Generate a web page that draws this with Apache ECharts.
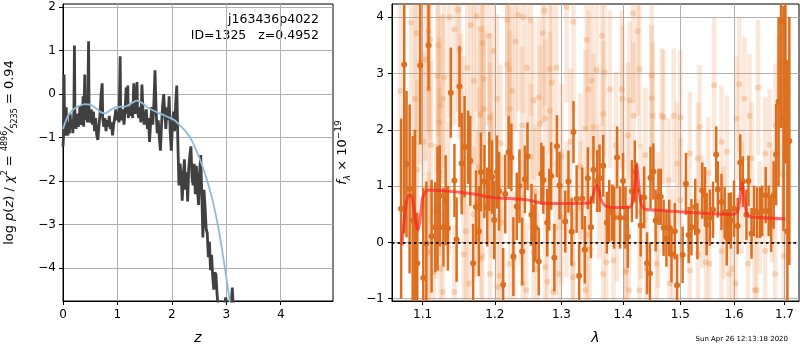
<!DOCTYPE html>
<html>
<head>
<meta charset="utf-8">
<script src="https://cdn.jsdelivr.net/npm/echarts@6/dist/echarts.min.js"></script>
<style>
  html, body { margin: 0; padding: 0; background: #fff; }
  #main { width: 800px; height: 350px; }
</style>
</head>
<body>
<div id="main"></div>
<script>
// left panel: p(z)
const zTicks = [0, 1, 2, 3, 4];
const pzTicks = [-4, -3, -2, -1, 0, 1, 2];
const pzZ = [
  0.00, 0.01, 0.02, 0.03, 0.05, 0.06, 0.07, 0.09, 0.10, 0.12,
  0.13, 0.15, 0.17, 0.18, 0.20, 0.21, 0.22, 0.24, 0.26, 0.28,
  0.30, 0.31, 0.33, 0.35, 0.37, 0.38, 0.40, 0.41, 0.43, 0.45,
  0.47, 0.48, 0.50, 0.52, 0.54, 0.56, 0.58, 0.60, 0.62, 0.64,
  0.66, 0.68, 0.70, 0.72, 0.73, 0.75, 0.77, 0.79, 0.81, 0.83,
  0.85, 0.87, 0.89, 0.91, 0.93, 0.95, 0.97, 0.99, 1.01, 1.03,
  1.05, 1.06, 1.08, 1.10, 1.12, 1.14, 1.16, 1.17, 1.19, 1.20,
  1.22, 1.24, 1.26, 1.28, 1.30, 1.32, 1.34, 1.36, 1.37, 1.39,
  1.41, 1.43, 1.45, 1.47, 1.49, 1.51, 1.53, 1.55, 1.57, 1.59,
  1.61, 1.63, 1.65, 1.67, 1.69, 1.71, 1.73, 1.75, 1.77, 1.79,
  1.81, 1.83, 1.85, 1.87, 1.89, 1.91, 1.93, 1.95, 1.97, 1.99,
  2.01, 2.03, 2.05, 2.07, 2.09, 2.11, 2.13, 2.15, 2.17, 2.19,
  2.21, 2.23, 2.25, 2.27, 2.29, 2.31, 2.33, 2.35, 2.37, 2.39,
  2.41, 2.43, 2.45, 2.47, 2.49, 2.51, 2.53, 2.55, 2.57, 2.59,
  2.61, 2.63, 2.65, 2.67, 2.69, 2.71, 2.73, 2.75, 2.77, 2.79,
  2.81, 2.83, 2.85, 2.87, 2.95, 2.99, 3.02, 3.08, 3.11, 3.14, 3.20
];
const pzLog = [
  -1.20, -0.95, 0.45, -0.90, -0.95, -0.30, -0.85, -0.95, -0.65, -0.90,
  -0.45, -0.80, -0.60, -0.90, -0.40, 1.12, -0.60, -0.80, -0.45, -0.75,
  -0.55, -0.25, -0.70, -0.65, -0.05, -0.75, 0.45, -0.60, -0.30, -0.65,
  1.22, -0.50, -0.65, -0.35, -0.70, -0.40, -0.85, -0.55, -0.95, -1.05,
  -0.75, -0.45, 0.00, 0.25, -0.55, -0.75, -0.55, -0.85, -0.60, -0.75,
  -0.50, -0.80, -0.65, -0.95, -0.70, -0.55, -0.35, -0.60, -0.40, -0.65,
  0.87, -0.45, -0.60, -0.35, -0.70, -0.40, 0.15, -0.45, 0.20, -0.55,
  -0.30, -0.50, -0.20, -0.55, 0.25, -0.45, -0.25, 0.28, -0.40, -0.55,
  -0.30, -0.65, 0.22, -0.40, -0.70, -0.50, -0.35, -0.80, -0.55, -1.10,
  -0.65, -0.30, -0.70, -0.20, 0.55, -0.35, -0.90, -0.60, -1.00, -1.30,
  -0.70, -0.25, 0.00, -0.45, -0.80, -0.30, -0.60, -0.05, -0.90, -1.30,
  -0.75, -0.40, -0.85, -0.20, 0.20, -1.10, -2.10, -1.60, -1.85, -2.45,
  -1.90, -1.50, -2.20, -1.80, -2.47, -1.70, -1.40, -1.20, -1.90, -2.10,
  -1.60, -2.30, -1.65, -2.20, -2.55, -1.80, -1.40, -2.30, -3.30, -2.20,
  -2.60, -3.10, -3.20, -3.75, -3.40, -4.05, -3.70, -4.20, -4.50, -4.10,
  -4.15, -4.60, -4.90, -5.20, -5.00, -4.68, -5.00, -5.10, -4.45, -5.20, -6.00
];
const fitZ = [0.00, 0.05, 0.10, 0.20, 0.30, 0.40, 0.50, 0.60, 0.70, 0.78,
  0.85, 0.95, 1.05, 1.15, 1.25, 1.35, 1.45, 1.55, 1.65, 1.75,
  1.85, 1.95, 2.05, 2.15, 2.25, 2.35, 2.45, 2.55, 2.65, 2.75,
  2.85, 2.95, 3.05, 3.12];
const fitLog = [-0.80, -0.62, -0.48, -0.34, -0.27, -0.23, -0.24, -0.32, -0.42, -0.44,
  -0.38, -0.31, -0.29, -0.28, -0.22, -0.15, -0.20, -0.30, -0.37, -0.43,
  -0.48, -0.54, -0.60, -0.72, -0.85, -1.03, -1.30, -1.62, -2.00, -2.45,
  -3.05, -3.80, -4.65, -5.30];

// right panel: spectrum, [lambda, flux, err]
const lamTicks = [1.1, 1.2, 1.3, 1.4, 1.5, 1.6, 1.7];
const fluxTicks = [-1, 0, 1, 2, 3, 4];
const specDark = [
  [1.072, 0.60, 1.60], [1.076, 3.16, 3.00], [1.079, 1.39, 1.30], [1.083, 0.95, 1.50], [1.087, 0.39, 1.50],
  [1.090, 0.20, 1.80], [1.093, -0.37, 0.90], [1.097, 3.14, 1.40], [1.101, -0.63, 1.60], [1.105, -0.02, 1.10],
  [1.108, 3.50, 0.80], [1.112, 0.11, 1.00], [1.117, 0.27, 0.80], [1.120, 0.60, 1.10], [1.123, 0.83, 0.90],
  [1.128, 0.27, 0.70], [1.131, 0.75, 0.80], [1.134, 0.25, 0.75], [1.138, 2.66, 0.80], [1.143, 1.10, 0.65],
  [1.146, 0.05, 0.75], [1.150, 2.77, 0.72], [1.153, 1.40, 0.90], [1.157, 1.70, 0.90], [1.162, 1.69, 0.65],
  [1.165, 1.45, 0.80], [1.169, -0.37, 0.70], [1.173, 0.63, 0.65], [1.177, 0.20, 0.80], [1.180, 1.25, 0.70],
  [1.185, 1.08, 0.65], [1.189, 0.63, 0.70], [1.192, 1.26, 0.70], [1.196, 1.16, 0.65], [1.199, 0.40, 0.70],
  [1.203, 1.25, 0.65], [1.206, 0.91, 0.70], [1.212, -0.75, 0.65], [1.215, 0.86, 0.70], [1.220, 1.60, 0.65],
  [1.224, 1.51, 0.60], [1.227, -0.25, 0.70], [1.232, 0.64, 0.60], [1.236, 1.00, 0.65], [1.240, -0.16, 0.60],
  [1.244, 1.12, 0.60], [1.248, 1.53, 0.60], [1.254, 0.49, 0.55], [1.257, 0.07, 0.60], [1.260, 0.26, 0.60],
  [1.265, -0.34, 0.60], [1.269, 1.22, 0.55], [1.272, 1.11, 0.60], [1.278, 0.35, 0.60], [1.281, 0.76, 0.55],
  [1.284, 1.18, 0.60], [1.289, -0.27, 0.60], [1.293, 1.71, 0.55], [1.297, 1.01, 0.60], [1.306, 0.37, 0.55],
  [1.311, 1.08, 0.55], [1.316, 0.19, 0.60], [1.319, 1.96, 0.55], [1.324, 0.77, 0.60], [1.328, -0.59, 0.60],
  [1.333, 0.78, 0.55], [1.337, -0.13, 0.60], [1.342, 1.14, 0.55], [1.347, 0.27, 0.55], [1.351, 1.29, 0.60],
  [1.357, 1.09, 0.55], [1.361, 1.14, 0.60], [1.367, 1.36, 0.55], [1.373, 0.35, 0.55], [1.377, 0.56, 0.55],
  [1.382, 0.53, 0.50], [1.385, 0.44, 0.55], [1.390, 1.51, 0.55], [1.395, 0.44, 0.55], [1.400, 1.09, 0.50],
  [1.404, 0.44, 0.55], [1.408, 0.10, 0.55], [1.415, 0.91, 0.55], [1.420, 1.26, 0.55], [1.423, 0.92, 0.50],
  [1.430, 0.30, 0.55], [1.436, 0.80, 0.55], [1.441, -0.37, 0.55], [1.446, -0.55, 0.55], [1.447, 1.15, 0.55],
  [1.452, 1.26, 0.50], [1.456, 0.39, 0.55], [1.461, 0.81, 0.50], [1.465, 0.81, 0.50], [1.470, 0.26, 0.50],
  [1.475, 0.07, 0.50], [1.480, 0.26, 0.50], [1.484, -0.21, 0.50], [1.490, 0.20, 0.50], [1.494, -0.76, 0.55],
  [1.504, -0.22, 0.50], [1.510, 1.04, 0.55], [1.515, 0.13, 0.50], [1.520, 0.27, 0.50], [1.527, 0.63, 0.50],
  [1.531, 0.20, 0.50], [1.540, 0.92, 0.50], [1.545, 0.84, 0.50], [1.548, 0.32, 0.55], [1.554, 0.44, 0.50],
  [1.560, 0.58, 0.50], [1.566, 1.56, 0.50], [1.569, 0.94, 0.50], [1.576, 0.72, 0.50], [1.582, 0.53, 0.45],
  [1.586, 0.09, 0.50], [1.590, 0.43, 0.45], [1.594, 0.39, 0.50], [1.600, 0.60, 0.50], [1.607, 0.29, 0.50],
  [1.612, 1.42, 0.50], [1.617, 1.08, 0.45], [1.624, 0.49, 0.45], [1.628, 1.09, 0.45], [1.634, 0.16, 0.45],
  [1.639, 0.56, 0.45], [1.645, 0.53, 0.45], [1.651, 0.53, 0.45], [1.655, 0.56, 0.45], [1.662, 0.84, 0.50],
  [1.668, 0.56, 0.45], [1.673, 0.33, 0.50], [1.678, 0.84, 0.60], [1.683, 1.56, 0.90], [1.688, 2.50, 1.50],
  [1.693, 3.93, 1.90], [1.698, 2.20, 2.00], [1.702, 3.20, 1.80], [1.706, 0.20, 3.00], [1.710, 1.80, 2.20]
];
const specFaint = [
  [1.071, 2.69, 1.8], [1.085, 3.90, 2.0], [1.090, 2.55, 1.8], [1.092, 3.72, 2.0], [1.093, 1.29, 1.6],
  [1.097, 3.19, 1.8], [1.101, 1.79, 1.6], [1.104, 3.25, 1.8], [1.108, 2.72, 1.7], [1.108, 3.75, 1.8],
  [1.110, 3.61, 1.8], [1.111, 1.73, 1.5], [1.108, -0.15, 1.4], [1.109, -0.19, 1.2], [1.115, -0.53, 1.5],
  [1.118, 0.55, 1.2], [1.120, 2.96, 1.7], [1.121, 3.50, 1.6], [1.122, 2.14, 1.5], [1.122, 1.26, 1.5],
  [1.124, 2.43, 1.6], [1.124, -0.47, 1.2], [1.127, 2.55, 1.5], [1.127, -0.88, 1.4], [1.129, 2.93, 1.6],
  [1.135, 0.95, 1.2], [1.136, 4.00, 1.8], [1.143, 3.78, 1.7], [1.143, -0.88, 1.2], [1.148, 4.13, 1.8],
  [1.150, 3.43, 1.6], [1.152, 2.20, 1.5], [1.156, 1.90, 1.4], [1.156, -0.21, 1.4], [1.159, 0.20, 1.3],
  [1.161, 3.10, 1.6], [1.163, -0.73, 1.4], [1.166, 3.86, 1.7], [1.170, 2.87, 1.5], [1.170, 0.50, 1.2],
  [1.174, 4.02, 1.7], [1.175, 0.70, 1.3], [1.177, 1.35, 1.4], [1.179, 2.28, 1.5], [1.180, 3.80, 1.6],
  [1.180, -0.30, 1.2], [1.182, 3.54, 1.6], [1.182, -0.24, 1.3], [1.184, 2.90, 1.5], [1.184, 2.37, 1.4],
  [1.191, 3.67, 1.6], [1.193, 2.22, 1.5], [1.193, 1.79, 1.4], [1.193, -0.56, 1.3], [1.195, 1.02, 1.3],
  [1.198, 3.40, 1.6], [1.203, 2.55, 1.5], [1.203, -0.79, 1.3], [1.207, -0.59, 1.2], [1.208, 1.76, 1.4],
  [1.210, 0.35, 1.2], [1.218, 3.95, 1.7], [1.218, 3.16, 1.6], [1.221, 3.07, 1.5], [1.222, 2.37, 1.4],
  [1.222, -0.38, 1.3], [1.225, 2.69, 1.5], [1.228, -0.30, 1.2], [1.230, 3.57, 1.6], [1.234, 4.04, 1.7],
  [1.238, 0.79, 1.2], [1.240, 2.08, 1.4], [1.241, 4.00, 1.7], [1.241, -0.73, 1.3], [1.246, -0.85, 1.2],
  [1.247, 3.10, 1.5], [1.253, 3.95, 1.7], [1.253, 1.52, 1.3], [1.257, 2.52, 1.4], [1.257, -0.18, 1.2],
  [1.260, 0.90, 1.2], [1.263, -0.47, 1.2], [1.265, 2.58, 1.4], [1.267, 2.11, 1.4], [1.271, 3.72, 1.6],
  [1.274, 4.12, 1.7], [1.275, 2.20, 1.4], [1.275, -0.44, 1.2], [1.278, -0.70, 1.2], [1.282, 2.34, 1.4],
  [1.282, 3.08, 1.5], [1.285, 2.84, 1.5], [1.287, -0.88, 1.2], [1.291, 0.26, 1.2], [1.292, 3.10, 1.5],
  [1.297, -0.56, 1.2], [1.300, 1.52, 1.3], [1.300, 0.45, 1.2], [1.308, 4.18, 1.7], [1.308, 0.58, 1.2],
  [1.314, 1.79, 1.3], [1.318, -0.38, 1.2], [1.318, -0.62, 1.2], [1.319, 3.92, 1.6], [1.330, 1.35, 1.3],
  [1.330, 0.60, 1.2], [1.338, 2.02, 1.4], [1.338, -0.85, 1.2], [1.340, 3.60, 1.6], [1.341, 0.14, 1.2],
  [1.343, 2.72, 1.4], [1.345, -0.12, 1.2], [1.348, 2.87, 1.4], [1.351, 2.05, 1.3], [1.356, 3.06, 1.5],
  [1.360, 0.90, 1.2], [1.365, 3.67, 1.6], [1.367, 2.28, 1.3], [1.367, -0.56, 1.2], [1.369, 3.02, 1.5],
  [1.372, -0.35, 1.2], [1.378, 2.72, 1.4], [1.384, -0.32, 1.1], [1.388, 1.73, 1.3], [1.390, 0.50, 1.2],
  [1.398, 2.72, 1.4], [1.399, 2.55, 1.3], [1.404, -0.53, 1.2], [1.405, -0.50, 1.1], [1.408, 1.90, 1.3],
  [1.410, -0.85, 1.1], [1.411, 2.52, 1.4], [1.417, 4.07, 1.6], [1.418, 2.25, 1.3], [1.425, 3.75, 1.5],
  [1.428, 3.07, 1.4], [1.428, -0.85, 1.2], [1.430, 0.55, 1.2], [1.438, 1.55, 1.2], [1.440, -0.47, 1.2],
  [1.449, 2.97, 1.4], [1.449, 2.56, 1.3], [1.451, 2.25, 1.3], [1.458, -0.38, 1.1], [1.460, 0.40, 1.2],
  [1.467, 2.25, 1.2], [1.470, 2.22, 1.2], [1.479, 1.11, 1.1], [1.481, -0.73, 1.1], [1.487, -0.24, 1.2],
  [1.488, 2.25, 1.2], [1.494, 1.40, 1.1], [1.500, 2.22, 1.2], [1.500, 0.75, 1.1], [1.517, 1.58, 1.1],
  [1.517, -0.50, 1.0], [1.532, 1.49, 1.0], [1.532, -0.21, 1.0], [1.535, 2.05, 1.1], [1.540, 0.55, 1.0],
  [1.547, -0.35, 1.0], [1.551, 1.23, 1.0], [1.553, -0.38, 1.0], [1.562, 2.79, 1.2], [1.576, 1.79, 1.0],
  [1.576, -0.15, 1.0], [1.580, 0.35, 1.0], [1.586, 1.61, 1.0], [1.590, -0.56, 1.0], [1.596, -0.47, 1.0],
  [1.603, -0.73, 1.0], [1.605, 2.20, 1.1], [1.610, 2.81, 1.2], [1.615, 0.80, 1.0], [1.620, 2.55, 1.1],
  [1.627, -0.38, 1.0], [1.630, 2.25, 1.1], [1.634, 1.49, 1.0], [1.640, -0.85, 1.0], [1.644, -0.85, 1.0],
  [1.647, 2.75, 1.2], [1.650, 0.45, 1.0], [1.661, 1.58, 1.0], [1.661, -0.15, 1.0], [1.670, 1.73, 1.0],
  [1.675, 0.65, 1.0], [1.681, -0.56, 1.0], [1.682, 2.08, 1.1], [1.688, 2.43, 1.2], [1.697, 1.20, 1.2],
  [1.699, -0.24, 1.2], [1.702, 2.72, 1.3]
];
const modelLam = [1.073, 1.076, 1.079, 1.082, 1.085, 1.088, 1.091, 1.094, 1.097, 1.100,
  1.104, 1.110, 1.125, 1.150, 1.170, 1.194, 1.220, 1.245, 1.270, 1.300,
  1.343, 1.349, 1.353, 1.3565, 1.360, 1.365, 1.372, 1.390, 1.410, 1.416,
  1.420, 1.423, 1.426, 1.430, 1.436, 1.445, 1.480, 1.520, 1.560, 1.600,
  1.608, 1.612, 1.616, 1.620, 1.625, 1.635, 1.702];
const modelFlux = [-0.05, 0.40, 0.72, 0.84, 0.84, 0.65, 0.35, 0.22, 0.45, 0.78,
  0.90, 0.93, 0.92, 0.89, 0.86, 0.80, 0.78, 0.76, 0.70, 0.69,
  0.70, 0.78, 0.95, 1.02, 0.92, 0.72, 0.64, 0.62, 0.62, 0.70,
  1.05, 1.37, 1.10, 0.72, 0.60, 0.58, 0.56, 0.53, 0.51, 0.50,
  0.58, 0.85, 1.05, 0.80, 0.50, 0.45, 0.42];

const FONT = 'DejaVu Sans';
const minus = v => String(v).replace('-', '\u2212');

// error bars drawn through the axes
function errorBars(barColor, dotColor, barWidth, radius) {
  return function (params, api) {
    const x = api.value(0), y = api.value(1), e = api.value(2);
    const top = api.coord([x, y + e]);
    const bot = api.coord([x, y - e]);
    const c = api.coord([x, y]);
    const cs = params.coordSys;
    return {
      type: 'group',
      clipPath: { type: 'rect', shape: { x: cs.x, y: cs.y, width: cs.width, height: cs.height } },
      children: [
        { type: 'line', shape: { x1: top[0], y1: top[1], x2: bot[0], y2: bot[1] },
          style: { stroke: barColor, lineWidth: barWidth } },
        { type: 'circle', shape: { cx: c[0], cy: c[1], r: radius }, style: { fill: dotColor } }
      ]
    };
  };
}

const gridLine = { show: true, lineStyle: { color: '#b0b0b0', width: 1 } };
const tick = { show: true, inside: false, length: 4, lineStyle: { color: '#000' } };
const label = { color: '#000', fontSize: 12, fontFamily: FONT };
const axisLine = { onZero: false, lineStyle: { color: '#000' } };

let myChart = echarts.init(document.getElementById('main'));
myChart.setOption({
  animation: false,
  textStyle: { fontFamily: FONT },
  grid: [
    { left: 62, top: 4, width: 271, height: 300, show: true, borderColor: '#000', borderWidth: 1 },
    { left: 392, top: 4, width: 407, height: 300, show: true, borderColor: '#000', borderWidth: 1 }
  ],
  xAxis: [
    {
      type: 'value', gridIndex: 0, min: 0, max: 4.96,
      name: 'z', nameLocation: 'middle', nameGap: 30,
      nameTextStyle: { fontSize: 14, fontStyle: 'italic', color: '#000' },
      axisLine: axisLine,
      axisTick: Object.assign({ customValues: zTicks }, tick),
      axisLabel: Object.assign({ customValues: zTicks, margin: 8 }, label),
      splitLine: gridLine
    },
    {
      type: 'value', gridIndex: 1,
      min: Math.log(1.0603), max: Math.log(1.730),
      name: 'λ', nameLocation: 'middle', nameGap: 30,
      nameTextStyle: { fontSize: 14, fontStyle: 'italic', color: '#000' },
      axisLine: axisLine,
      axisTick: Object.assign({ customValues: lamTicks.map(Math.log) }, tick),
      axisLabel: Object.assign({ customValues: lamTicks.map(Math.log), margin: 8,
        formatter: v => Math.exp(v).toFixed(1) }, label),
      splitLine: gridLine
    }
  ],
  yAxis: [
    {
      type: 'value', gridIndex: 0, min: -4.76, max: 2.075,
      name: '{n|log }{i|p}{n|(}{i|z}{n|) / }{i|χ}{sup|2}{n| = }{sup|4896}{n|⁄}{sub|5235}{n| = 0.94}',
      nameLocation: 'middle', nameGap: 44,
      nameTextStyle: {
        color: '#000',
        rich: {
          n: { fontSize: 13, color: '#000', lineHeight: 18 },
          i: { fontSize: 13, fontStyle: 'italic', color: '#000', lineHeight: 18 },
          sup: { fontSize: 8, color: '#000', verticalAlign: 'top', lineHeight: 18 },
          sub: { fontSize: 8, color: '#000', verticalAlign: 'bottom', lineHeight: 18 }
        }
      },
      axisLine: axisLine,
      axisTick: Object.assign({ customValues: pzTicks }, tick),
      axisLabel: Object.assign({ customValues: pzTicks, margin: 7, formatter: minus }, label),
      splitLine: gridLine
    },
    {
      type: 'value', gridIndex: 1, min: -1.04, max: 4.234,
      name: '{i|f}{sub|λ}{n| × 10}{sup|−19}',
      nameLocation: 'middle', nameGap: 40,
      nameTextStyle: {
        color: '#000',
        rich: {
          n: { fontSize: 13, color: '#000', lineHeight: 18 },
          i: { fontSize: 13, fontStyle: 'italic', color: '#000', lineHeight: 18 },
          sup: { fontSize: 9, color: '#000', verticalAlign: 'top', lineHeight: 18 },
          sub: { fontSize: 9, fontStyle: 'italic', color: '#000', verticalAlign: 'bottom', lineHeight: 18 }
        }
      },
      axisLine: axisLine,
      axisTick: Object.assign({ customValues: fluxTicks }, tick),
      axisLabel: Object.assign({ customValues: fluxTicks, margin: 8, formatter: minus }, label),
      splitLine: gridLine
    }
  ],
  series: [
    {
      type: 'line', xAxisIndex: 0, yAxisIndex: 0,
      data: fitZ.map((z, i) => [z, fitLog[i]]),
      showSymbol: false, smooth: 0.3, clip: true, z: 3,
      lineStyle: { color: '#8fbbd9', width: 1.8 }
    },
    {
      type: 'line', xAxisIndex: 0, yAxisIndex: 0,
      data: pzZ.map((z, i) => [z, pzLog[i]]),
      showSymbol: false, clip: true, z: 2,
      lineStyle: { color: '#404040', width: 2.8 }
    },
    {
      type: 'custom', xAxisIndex: 1, yAxisIndex: 1, clip: true,
      data: specFaint.map(d => [Math.log(d[0]), d[1], d[2]]),
      encode: { x: 0, y: 1 },
      renderItem: errorBars('rgba(236,140,70,0.2)', 'rgba(236,140,70,0.32)', 4.5, 3),
      z: 2
    },
    {
      type: 'custom', xAxisIndex: 1, yAxisIndex: 1, clip: true,
      data: specDark.map(d => [Math.log(d[0]), d[1], d[2]]),
      encode: { x: 0, y: 1 },
      renderItem: errorBars('#dc6e1f', '#dc6e1f', 2.5, 3),
      z: 3
    },
    {
      type: 'line', xAxisIndex: 1, yAxisIndex: 1,
      data: modelLam.map((l, i) => [Math.log(l), modelFlux[i]]),
      showSymbol: false, smooth: 0.3, clip: true, z: 4,
      lineStyle: { color: 'rgba(255,30,30,0.65)', width: 3 },
      markLine: {
        silent: true, symbol: 'none', label: { show: false },
        lineStyle: { color: '#000', width: 2, type: [2.5, 3], opacity: 0.85 },
        data: [{ yAxis: 0 }]
      }
    }
  ],
  graphic: [
    { type: 'text', right: 800 - 319, top: 13,
      style: { text: 'j163436p4022', fontSize: 12.5, fill: '#000', fontFamily: FONT, textAlign: 'right' } },
    { type: 'text', right: 800 - 319, top: 29,
      style: { text: 'ID=1325   z=0.4952', fontSize: 12.5, fill: '#000', fontFamily: FONT, textAlign: 'right' } },
    { type: 'text', right: 12, top: 336,
      style: { text: 'Sun Apr 26 12:13:18 2020', fontSize: 7, fill: '#000', fontFamily: FONT } }
  ]
});
</script>
</body>
</html>
